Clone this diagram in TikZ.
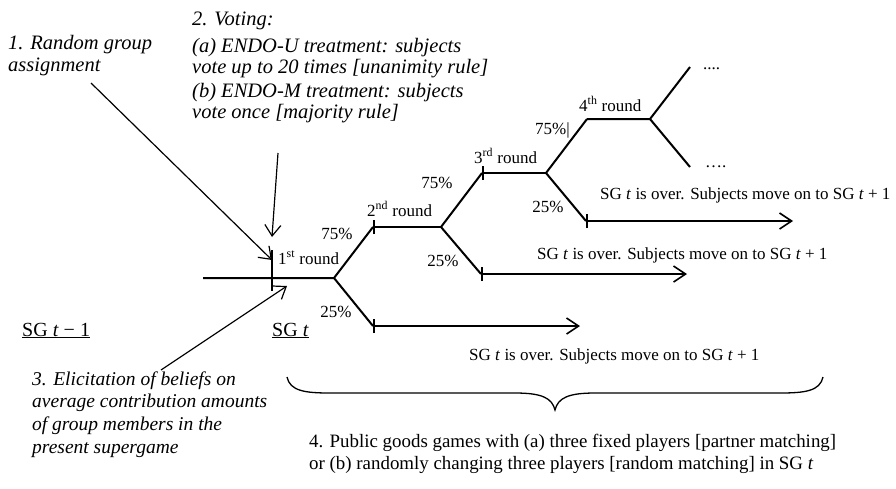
\documentclass[tikz,border=0pt]{standalone}
\usepackage{fontspec}
\setmainfont{Liberation Serif}[ItalicFont={Liberation Serif Italic},BoldFont={Liberation Serif Bold}]
\usetikzlibrary{arrows.meta}
\tikzset{
  tree/.style={line width=2pt},
  note/.style={line width=1.2pt,-{Straight Barb[length=11pt,width=16pt]}},
  leave/.style={line width=1.6pt,{Bar[width=14pt]}-{Straight Barb[length=12pt,width=16pt]}},
  txt/.style={font=\fontsize{17}{20}\selectfont,anchor=base west,inner sep=0pt},
  pct/.style={txt,anchor=base},
  itl/.style={font=\fontsize{20.5}{22}\selectfont\itshape,anchor=base west,inner sep=0pt},
  sg/.style={font=\fontsize{20}{22}\selectfont,anchor=base west,inner sep=0pt}
}
\begin{document}
\begin{tikzpicture}[x=1pt,y=-1pt]
\useasboundingbox (0,0) rectangle (896,488);
% branching points of the tree
\coordinate (s0) at (203,278); \coordinate (b1) at (334,278);
\coordinate (u1) at (373,227); \coordinate (b2) at (441,227);
\coordinate (l1) at (373,326); \coordinate (e1) at (580,326);
\coordinate (u2) at (482,173); \coordinate (b3) at (546,173);
\coordinate (l2) at (481,274); \coordinate (e2) at (687,274);
\coordinate (u3) at (587,119); \coordinate (b4) at (650,119);
\coordinate (l3) at (586,221); \coordinate (e3) at (793,221);
\coordinate (f1) at (690,67);  \coordinate (f2) at (690,167);
\coordinate (tk1) at (272,250); \coordinate (tk2) at (272,291);
% tree
\draw[tree] (s0) -- (b1) -- (u1);
\draw[tree] (b1) -- (l1);
\draw[tree,{Bar[width=14pt]}-] (u1) -- (b2);
\draw[tree] (b2) -- (u2); \draw[tree] (b2) -- (l2);
\draw[tree,{Bar[width=14pt]}-] (u2) -- (b3);
\draw[tree] (b3) -- (u3); \draw[tree] (b3) -- (l3);
\draw[tree] (u3) -- (b4) -- (f1); \draw[tree] (b4) -- (f2);
\draw[leave] (l1) -- (e1);
\draw[leave] (l2) -- (e2);
\draw[leave] (l3) -- (e3);
\draw[line width=1.6pt] (tk1) -- (tk2);
% round labels
\node[txt] (rd1) at (278,264) {1\textsuperscript{st} round};
\node[txt] (rd2) at (367,216) {2\textsuperscript{nd} round};
\node[txt] (rd3) at (474,163) {3\textsuperscript{rd} round};
\node[txt] (rd4) at (579,111) {4\textsuperscript{th} round};
\node[pct] (pa1) at (337,239) {75\%};
\node[pct] (pb1) at (336,317) {25\%};
\node[pct] (pa2) at (437,188) {75\%};
\node[pct] (pb2) at (443,266) {25\%};
\node[txt] (pa3) at (535,134) {75\%|};
\node[pct] (pb3) at (548,212) {25\%};
\node[txt] (dt1) at (703,69) {....};
\node[txt] (dt2) at (705,167) {\ldots.};
\node[txt] (ov1) at (600,199) {SG \textit{t} is over. Subjects move on to SG \textit{t} + 1};
\node[txt] (ov2) at (537,259) {SG \textit{t} is over. Subjects move on to SG \textit{t} + 1};
\node[txt] (ov3) at (469,360) {SG \textit{t} is over. Subjects move on to SG \textit{t} + 1};
\node[sg] (sgp) at (22,336) {\underline{SG \textit{t} − 1}};
\node[sg] (sgt) at (272,336) {\underline{SG \textit{t}}};
% annotations
\node[itl] (rn1) at (8,49) {1. Random group};
\node[itl] (rn2) at (8,71) {assignment};
\node[itl] (vt0) at (192,25) {2. Voting:};
\node[itl] (va1) at (192,52) {(a) ENDO-U treatment: subjects};
\node[itl] (va2) at (192,73) {vote up to 20 times [unanimity rule]};
\node[itl] (vb1) at (192,97) {(b) ENDO-M treatment: subjects};
\node[itl] (vb2) at (192,118) {vote once [majority rule]};
\node[itl,font=\fontsize{19.5}{22}\selectfont\itshape] (el1) at (32,385) {3. Elicitation of beliefs on};
\node[itl,font=\fontsize{19.5}{22}\selectfont\itshape] (el2) at (32,407) {average contribution amounts};
\node[itl,font=\fontsize{19.5}{22}\selectfont\itshape] (el3) at (32,430) {of group members in the};
\node[itl,font=\fontsize{19.5}{22}\selectfont\itshape] (el4) at (32,453) {present supergame};
\node[txt,font=\fontsize{18.9}{22}\selectfont] (pg1) at (309,447) {4. Public goods games with (a) three fixed players [partner matching]};
\node[txt,font=\fontsize{18.9}{22}\selectfont] (pg2) at (309,469) {or (b) randomly changing three players [random matching] in SG \textit{t}};
\coordinate (ra) at (91,83);  \coordinate (rb) at (272,260);
\coordinate (va) at (278,153); \coordinate (vb) at (272,237);
\coordinate (ea) at (161,370); \coordinate (eb) at (287,286);
\draw[note] (ra) -- (rb);
\draw[note] (va) -- (vb);
\draw[note] (ea) -- (eb);
% brace
\draw[line width=1.3pt] (287,377) .. controls (290,391) and (305,393) .. (330,393) -- (515,393)
  .. controls (542,393) and (552,398) .. (555,410) .. controls (558,398) and (568,393) .. (595,393)
  -- (780,393) .. controls (805,393) and (820,391) .. (823,377);
\end{tikzpicture}
\end{document}
